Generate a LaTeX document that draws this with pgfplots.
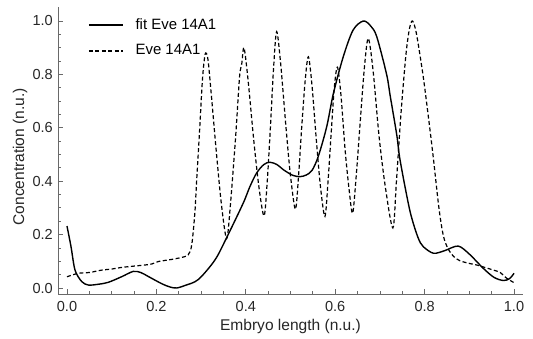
\documentclass[border=0pt]{standalone}
\usepackage{fontspec}
\setmainfont{Liberation Sans}
\usepackage{pgfplots}
\pgfplotsset{compat=1.18}
\definecolor{axgray}{RGB}{105,105,105}
\begin{document}
\fontsize{15}{18}\selectfont
\begin{tikzpicture}
\useasboundingbox (0,0) rectangle (533bp,339bp);
\begin{axis}[
  at={(58bp,45bp)}, anchor=south west,
  scale only axis, width=465bp, height=287bp,
  xmin=-0.0201, xmax=1.0201, ymin=-0.0225, ymax=1.0524,
  axis x line=bottom, axis y line=left,
  axis line style={-, axgray, line width=0.9bp},
  tick style={axgray, line width=0.8bp},
  tick align=inside,
  major tick length=5bp, minor tick length=3bp,
  xtick={0,0.2,...,1.0}, ytick={0,0.2,...,1.0},
  minor tick num=3,
  /pgf/number format/assume math mode=true,
  /pgf/number format/.cd, fixed, fixed zerofill, precision=1, /pgfplots/.cd,
  tick label style={font=\fontsize{14.6}{17}\selectfont, black!85},
  xticklabel style={yshift=-2bp},
  xlabel={Embryo length (n.u.)},
  ylabel={Concentration (n.u.)},
  xlabel style={at={(rel axis cs:0.5,-0.114)}, anchor=center, font=\fontsize{15.6}{18}\selectfont, black!85},
  ylabel style={at={(rel axis cs:-0.0817,0.478)}, anchor=center, font=\fontsize{15.6}{18}\selectfont, black!85},
  legend cell align=left,
  legend style={draw=none, fill=none, at={(axis cs:0.047,1.017)}, anchor=north west, inner sep=0pt,
    font=\fontsize{15}{18}\selectfont, row sep=9bp},
  legend image code/.code={\draw[#1] (0bp,0bp) -- (34bp,0bp); \path (44bp,0bp);},
]
\addplot[black, line width=1.4bp, smooth, tension=0.5] coordinates {
(0,0.232) (0.009,0.155) (0.018,0.067) (0.033,0.024) (0.048,0.011) (0.07,0.014)
(0.092,0.021) (0.122,0.042) (0.148,0.062) (0.165,0.058) (0.182,0.043) (0.212,0.016)
(0.23,0.004) (0.245,0.0) (0.265,0.01) (0.294,0.032) (0.331,0.105) (0.357,0.188)
(0.394,0.317) (0.409,0.379) (0.424,0.43) (0.44,0.462) (0.454,0.471) (0.47,0.462)
(0.484,0.443) (0.505,0.422) (0.521,0.417) (0.535,0.423) (0.548,0.44) (0.562,0.492)
(0.581,0.604) (0.596,0.729) (0.618,0.866) (0.64,0.966) (0.663,1.0) (0.68,0.98)
(0.693,0.941) (0.715,0.80) (0.723,0.72) (0.738,0.57) (0.745,0.48) (0.767,0.29)
(0.785,0.19) (0.797,0.155) (0.82,0.13) (0.845,0.14) (0.875,0.157) (0.9,0.127)
(0.931,0.074) (0.955,0.04) (0.976,0.028) (0.99,0.035) (1.0,0.055)
};
\addlegendentry{fit Eve 14A1}
\addplot[black, line width=1.2bp, dash pattern=on 4bp off 2.5bp, smooth, tension=0.5] coordinates {
(0,0.042) (0.025,0.055) (0.05,0.058) (0.078,0.067) (0.1,0.071) (0.122,0.077)
(0.15,0.082) (0.174,0.086) (0.19,0.09) (0.204,0.099) (0.234,0.107) (0.255,0.114)
(0.271,0.124) (0.279,0.161) (0.286,0.28) (0.29,0.40) (0.297,0.6) (0.303,0.78)
(0.309,0.875) (0.315,0.86) (0.322,0.74) (0.333,0.53) (0.345,0.32) (0.357,0.185)
(0.365,0.3) (0.377,0.56) (0.386,0.79) (0.391,0.84) (0.396,0.90) (0.405,0.78)
(0.418,0.55) (0.43,0.37) (0.441,0.27) (0.448,0.4) (0.455,0.6) (0.462,0.82)
(0.469,0.96) (0.478,0.84) (0.49,0.6) (0.50,0.42) (0.511,0.295) (0.518,0.42)
(0.525,0.6) (0.533,0.78) (0.540,0.866) (0.548,0.76) (0.558,0.55) (0.567,0.38)
(0.577,0.268) (0.584,0.4) (0.591,0.58) (0.598,0.75) (0.605,0.827) (0.613,0.72)
(0.622,0.52) (0.631,0.37) (0.639,0.28) (0.647,0.42) (0.655,0.6) (0.665,0.82)
(0.674,0.935) (0.685,0.81) (0.698,0.57) (0.712,0.38) (0.729,0.225) (0.737,0.4)
(0.747,0.65) (0.758,0.87) (0.766,0.97) (0.773,1.0) (0.782,0.95) (0.797,0.79)
(0.81,0.62) (0.82,0.48) (0.832,0.3) (0.842,0.195) (0.853,0.145) (0.865,0.118)
(0.879,0.102) (0.9,0.092) (0.917,0.086) (0.931,0.079) (0.954,0.067) (0.969,0.058)
(0.984,0.036) (1.0,0.02)
};
\addlegendentry{Eve 14A1}
\end{axis}
\end{tikzpicture}
\end{document}
